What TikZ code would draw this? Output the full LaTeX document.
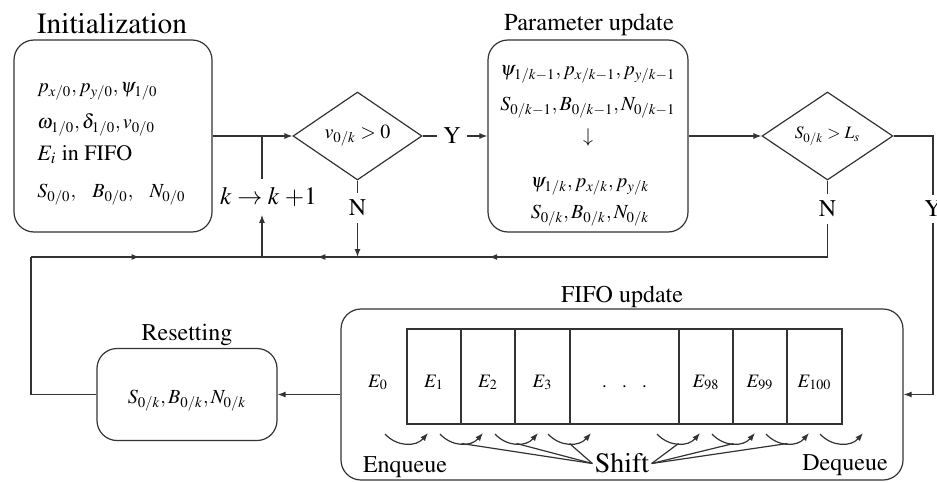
\documentclass[tikz,border=0pt]{standalone}
\usepackage[T1]{fontenc}
\usepackage{mathptmx}
\usetikzlibrary{shapes.geometric,arrows.meta,decorations.markings,calc}

\tikzset{
  ln/.style={line width=0.6pt, draw=black!80},
  tipped/.style={-{Latex[length=4pt,width=3pt]}},
  midtip/.style={postaction={decorate},
    decoration={markings, mark=at position #1 with {\arrow{Latex[length=4pt,width=3pt]}}}},
  rbox/.style={ln, rectangle, rounded corners=10pt, inner sep=0pt},
  dbox/.style={ln, diamond, inner sep=0pt},
  cell/.style={ln, rectangle, inner sep=0pt, minimum height=47.5pt,
    text height=10.5pt, text depth=0pt, font=\fontsize{9.5}{11}\selectfont},
  ttl/.style={anchor=base, inner sep=0pt},
  mth/.style={inner sep=0pt, font=\fontsize{10}{12}\selectfont},
  lbl/.style={inner sep=0pt, font=\fontsize{12}{14}\selectfont},
}

\begin{document}
\begin{tikzpicture}[x=0.5pt,y=-0.5pt]
\useasboundingbox (0,0) rectangle (937,482);

% titles
\node[ttl, font=\fontsize{14.7}{16}\selectfont] (tinit) at (112,33) {Initialization};
\node[ttl, font=\fontsize{12.2}{14}\selectfont] (tpar) at (589,31) {Parameter update};
\node[ttl, font=\fontsize{12}{14}\selectfont] (tfifo) at (622,302) {FIFO update};
\node[ttl, font=\fontsize{12}{14}\selectfont] (treset) at (187,340) {Resetting};

% rounded boxes
\node[rbox, minimum width=99pt, minimum height=96pt] (init) at (113,136) {};
\node[rbox, minimum width=100pt, minimum height=96pt] (par) at (588,136) {};
\node[rbox, minimum width=90pt, minimum height=46pt] (reset) at (187,394.5) {};
\node[rbox, minimum width=281pt, minimum height=85.5pt] (fifo) at (622,394.5) {};

% initialization contents
\node[mth, anchor=base west] (i1) at (37,92) {$p_{x/0},p_{y/0},\psi_{1/0}$};
\node[mth, anchor=base west] (i2) at (37,128) {$\omega_{1/0},\delta_{1/0},v_{0/0}$};
\node[mth, anchor=base west, font=\fontsize{11}{13}\selectfont] (i3) at (37,160) {$E_i$ in FIFO};
\node[mth, anchor=base west] (i4) at (37,197) {$S_{0/0},\hspace{7pt}B_{0/0},\hspace{7pt}N_{0/0}$};

% parameter update contents
\node[mth, anchor=base] (p1) at (588,75) {$\psi_{1/k-1},p_{x/k-1},p_{y/k-1}$};
\node[mth, anchor=base] (p2) at (588,110) {$S_{0/k-1},B_{0/k-1},N_{0/k-1}$};
\node[mth] (p3) at (588,137) {$\downarrow$};
\node[mth, anchor=base] (p4) at (590,187) {$\psi_{1/k},p_{x/k},p_{y/k}$};
\node[mth, anchor=base] (p5) at (590,218) {$S_{0/k},B_{0/k},N_{0/k}$};

% resetting contents
\node[mth, anchor=base] (r1) at (187,403) {$S_{0/k},B_{0/k},N_{0/k}$};

% decisions
\node[dbox, minimum width=64.5pt, minimum height=44pt, font=\fontsize{10}{12}\selectfont] (d1) at (357.5,136) {$v_{0/k}>0$};
\node[dbox, minimum width=65.5pt, minimum height=44pt, font=\fontsize{8.7}{10}\selectfont] (d2) at (827.5,136) {$S_{0/k}>L_s$};

% branch labels
\node[lbl, minimum width=15pt] (y1) at (452,136) {Y};
\node[lbl, minimum height=15pt] (n1) at (357.5,208) {N};
\node[lbl, minimum height=15pt] (n2) at (827.5,209) {N};
\node[lbl, minimum height=13.5pt] (y2) at (933,209) {Y};
\node[inner sep=0pt, minimum height=17.5pt, font=\fontsize{12.5}{14}\selectfont] (kk) at (268.5,197) {$k\rightarrow k\;{+}1$};

% routing points
\coordinate (j1) at (262,136);
\coordinate (j2) at (262,257);
\coordinate (jN) at (d1.south |- j2);
\coordinate (br) at (d2.south |- j2);
\coordinate (bl) at (31,257);
\coordinate (rl) at (bl |- reset.west);
\coordinate (cr) at (933,136);
\coordinate (cr2) at (cr |- fifo.east);

% connectors
\draw[ln,tipped] (init.east) -- (d1.west);
\draw[ln] (j1) -- (kk.north -| j1);
\draw[ln,tipped] (j2) -- (kk.south -| j2);
\draw[ln] (d1.east) -- (y1.west);
\draw[ln,tipped] (y1.east) -- (par.west);
\draw[ln] (d1.south) -- (n1.north);
\draw[ln,tipped] (n1.south) -- (jN);
\draw[ln,tipped] (par.east) -- (d2.west);
\draw[ln] (d2.south) -- (n2.north);
\draw[ln] (n2.south) -- (br);
\draw[ln,midtip=0.72] (br) -- (jN);
\draw[ln,midtip=0.42] (jN) -- (j2);
\draw[ln] (d2.east) -- (cr) -- (y2.north);
\draw[ln,tipped] (y2.south) -- (cr2) -- (fifo.east);
\draw[ln,tipped] (fifo.west) -- (reset.east);
\draw[ln] (reset.west) -- (rl) -- (bl);
\draw[ln,midtip=0.47] (bl) -- (j2);

% FIFO cells
\node[cell, minimum width=27pt] (c1) at (434,376.5) {$E_1$};
\node[cell, minimum width=27pt] (c2) at (488,376.5) {$E_2$};
\node[cell, minimum width=27.5pt] (c3) at (542.5,376.5) {$E_3$};
\node[cell, minimum width=54.5pt] (c4) at (624.5,376.5) {.\hspace{7.6pt}.\hspace{7.6pt}.};
\node[cell, minimum width=27pt] (c5) at (706,376.5) {$E_{98}$};
\node[cell, minimum width=27pt] (c6) at (760,376.5) {$E_{99}$};
\node[cell, minimum width=27.5pt] (c7) at (814.5,376.5) {$E_{100}$};
\node[inner sep=0pt, anchor=base, font=\fontsize{9.5}{11}\selectfont] (e0) at (378,387) {$E_0$};

% shift arcs under the cells
\foreach \s [count=\i] in {385,440,495,548,657,712,766,820}{
  \coordinate (as\i) at (\s,434);
  \coordinate (ae\i) at (\s+43,433);
  \coordinate (am\i) at (\s+21.5,443.5);
  \draw[ln,tipped] (as\i) .. controls ($(as\i)+(12,13)$) and ($(ae\i)+(-12,14)$) .. (ae\i);
}

% queue labels
\node[ttl, font=\fontsize{12}{14}\selectfont] (enq) at (405,472) {Enqueue};
\node[ttl, font=\fontsize{12}{14}\selectfont] (deq) at (845,470) {Dequeue};
\node[inner sep=1pt, font=\fontsize{14}{16}\selectfont] (shift) at (622,463.5) {Shift};
\foreach \k in {2,3,4}{\draw[ln] (shift.west) -- (am\k);}
\foreach \k in {5,6,7}{\draw[ln] (shift.east) -- (am\k);}
\end{tikzpicture}
\end{document}
